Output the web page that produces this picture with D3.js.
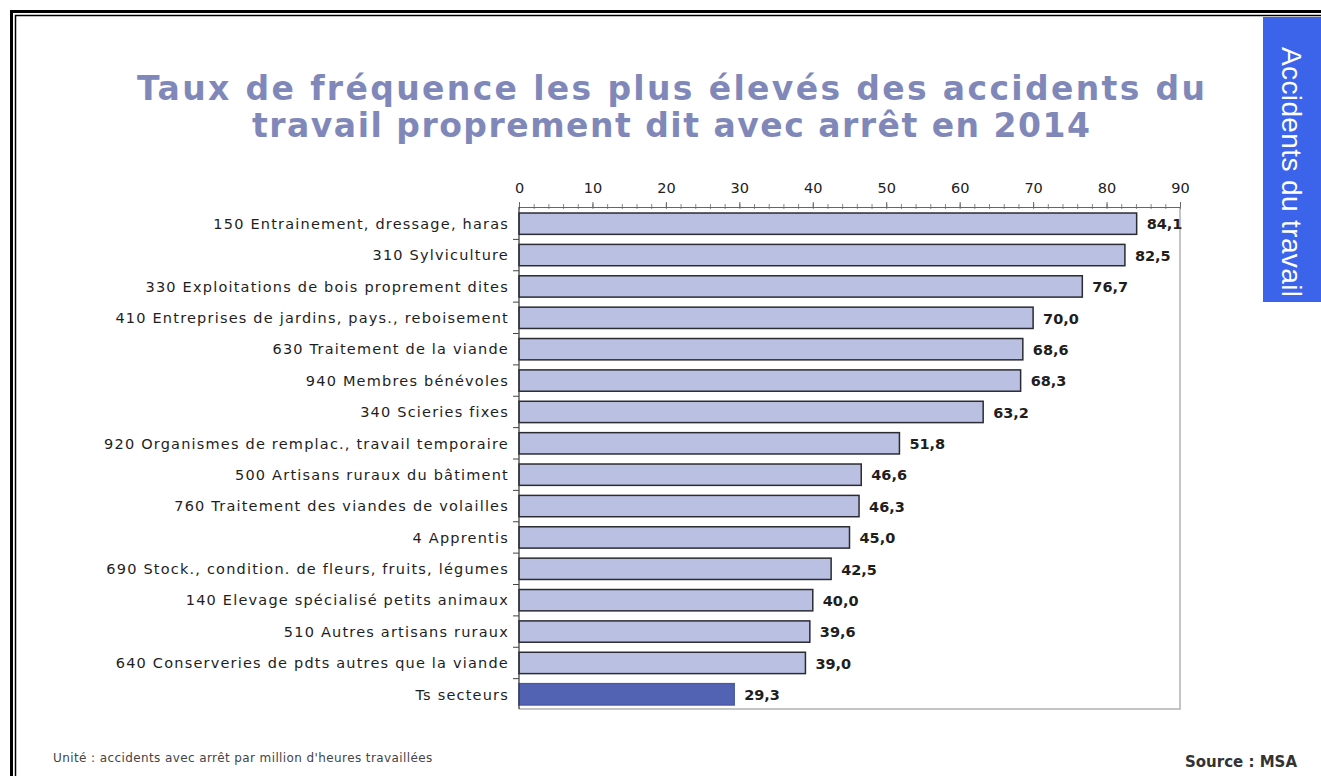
<!DOCTYPE html>
<html>
<head>
<meta charset="utf-8">
<script src="https://cdn.jsdelivr.net/npm/d3@7"></script>
<style>
  body { margin: 0; background: #fff; }
  svg { display: block; font-family: "DejaVu Sans", Verdana, sans-serif; }
</style>
</head>
<body>
<svg id="chart" width="1321" height="776"></svg>
<script>
// secteurs (du haut vers le bas)
const secteurs = [
  "150 Entrainement, dressage, haras",
  "310 Sylviculture",
  "330 Exploitations de bois proprement dites",
  "410 Entreprises de jardins, pays., reboisement",
  "630 Traitement de la viande",
  "940 Membres bénévoles",
  "340 Scieries fixes",
  "920 Organismes de remplac., travail temporaire",
  "500 Artisans ruraux du bâtiment",
  "760 Traitement des viandes de volailles",
  "4 Apprentis",
  "690 Stock., condition. de fleurs, fruits, légumes",
  "140 Elevage spécialisé petits animaux",
  "510 Autres artisans ruraux",
  "640 Conserveries de pdts autres que la viande",
  "Ts secteurs"
];
const taux = [84.1, 82.5, 76.7, 70.0, 68.6, 68.3, 63.2, 51.8, 46.6, 46.3, 45.0, 42.5, 40.0, 39.6, 39.0, 29.3];
const majorTicks = [0, 10, 20, 30, 40, 50, 60, 70, 80, 90];

const svg = d3.select("#chart");

// cadre noir double
svg.append("rect").attr("x", 11.5).attr("y", 11.5).attr("width", 1340).attr("height", 800)
  .style("fill", "none").style("stroke", "#000").style("stroke-width", 3);
svg.append("rect").attr("x", 15.5).attr("y", 15.5).attr("width", 1340).attr("height", 800)
  .style("fill", "none").style("stroke", "#000").style("stroke-width", 1.5);

// onglet bleu
svg.append("rect").attr("x", 1263).attr("y", 17).attr("width", 60).attr("height", 285)
  .style("fill", "#3b64ea");
svg.append("text")
  .attr("transform", "translate(1282,47) rotate(90)")
  .style("fill", "#fff").style("font-size", "28px")
  .style("font-family", "'Liberation Sans', Arial, sans-serif")
  .attr("textLength", 250)
  .text("Accidents du travail");

// titre
svg.append("text").attr("text-anchor", "middle")
  .attr("x", 671).attr("y", 100).attr("textLength", 1068)
  .style("fill", "#8088ba").style("font-size", "33px").style("font-weight", "bold")
  .text("Taux de fréquence les plus élevés des accidents du");
svg.append("text").attr("text-anchor", "middle")
  .attr("x", 671).attr("y", 137).attr("textLength", 838)
  .style("fill", "#8088ba").style("font-size", "33px").style("font-weight", "bold")
  .text("travail proprement dit avec arrêt en 2014");

const x = d3.scaleLinear().domain([0, 90]).range([519, 1180]);
const y = d3.scaleBand().domain(secteurs).range([208, 710]).paddingInner(0.32).paddingOuter(0.16);

// cadre gris du graphique
svg.append("polyline")
  .attr("points", [[x(90), 207], [x(90), 709], [x(0), 709]].join(" "))
  .style("fill", "none").style("stroke", "#c4c4c4").style("stroke-width", 2);

// axe du haut, graduations mineures
const minor = d3.range(0, 91, 2);
svg.append("g").attr("transform", "translate(0,209)")
  .call(d3.axisTop(x).tickValues(minor).tickSize(5).tickFormat(""))
  .call(g => g.select(".domain").remove())
  .selectAll("line").style("stroke", "#888");

svg.append("g").attr("transform", "translate(0,207)")
  .call(d3.axisTop(x).tickValues(majorTicks).tickSize(5).tickSizeOuter(0).tickPadding(9))
  .call(g => g.select(".domain").style("stroke", "#666"))
  .call(g => g.selectAll("line").style("stroke", "#666"))
  .call(g => g.selectAll("text").style("font-size", "14.5px").style("fill", "#222")
    .style("font-family", "'DejaVu Sans', Verdana, sans-serif"));

// barres
svg.selectAll("rect.bar")
  .data(secteurs)
  .enter()
  .append("rect")
  .attr("class", "bar")
  .attr("x", x(0))
  .attr("y", d => y(d))
  .attr("width", (d, i) => x(taux[i]) - x(0))
  .attr("height", y.bandwidth())
  .style("fill", (d, i) => i == secteurs.length - 1 ? "#5363b3" : "#b9c0e1")
  .style("stroke", (d, i) => i == secteurs.length - 1 ? "#4a5aa8" : "#2b2b33")
  .style("stroke-width", 1.5);

// axe gauche
svg.append("line").attr("x1", x(0)).attr("x2", x(0)).attr("y1", 207).attr("y2", 709)
  .style("stroke", "#333").style("stroke-width", 1.2);
svg.selectAll("line.sep")
  .data(secteurs.slice(1))
  .enter()
  .append("line")
  .attr("class", "sep")
  .attr("x1", x(0) - 6).attr("x2", x(0))
  .attr("y1", d => y(d) - y.step() * y.paddingInner() / 2)
  .attr("y2", d => y(d) - y.step() * y.paddingInner() / 2)
  .style("stroke", "#444");

// libellés
svg.selectAll("text.cat")
  .data(secteurs)
  .enter()
  .append("text")
  .attr("class", "cat")
  .attr("x", 509)
  .attr("y", d => y(d) + y.bandwidth() / 2)
  .attr("dy", "0.36em")
  .attr("text-anchor", "end")
  .style("font-size", "14.5px")
  .style("letter-spacing", "1.2px")
  .style("fill", "#1e1e1e")
  .text(d => d);

const fmt = v => d3.format(".1f")(v).replace(".", ",");
svg.selectAll("text.val")
  .data(taux)
  .enter()
  .append("text")
  .attr("class", "val")
  .attr("x", v => x(v) + 10)
  .attr("y", (v, i) => y(secteurs[i]) + y.bandwidth() / 2)
  .attr("dy", "0.4em")
  .style("font-size", "14.5px")
  .style("font-weight", "bold")
  .style("fill", "#1e1e1e")
  .text(fmt);

// notes
svg.append("text").attr("x", 53).attr("y", 762)
  .style("font-size", "12px").style("letter-spacing", "0.4px").style("fill", "#444")
  .text("Unité : accidents avec arrêt par million d'heures travaillées");
svg.append("text").attr("x", 1297).attr("y", 767).attr("text-anchor", "end")
  .style("font-size", "15px")
  .style("font-weight", "bold").style("fill", "#333")
  .text("Source : MSA");
</script>
</body>
</html>
